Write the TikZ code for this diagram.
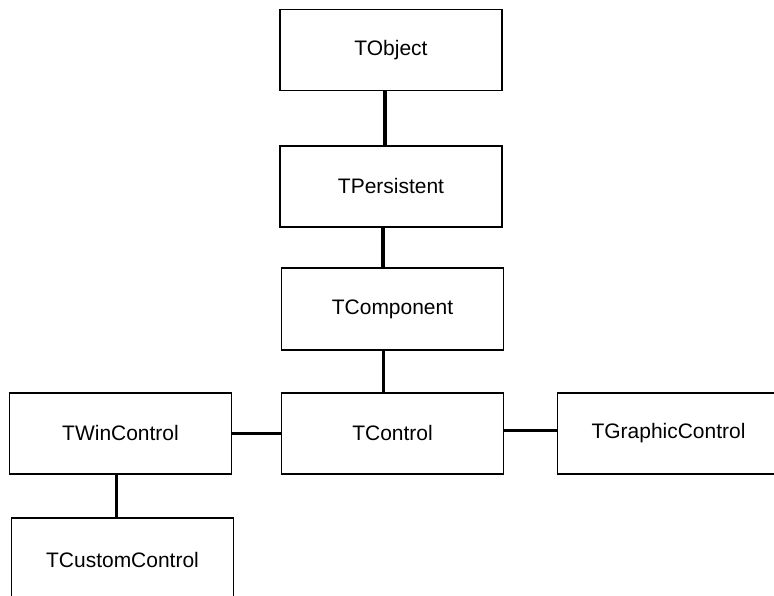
\documentclass[tikz,border=0pt]{standalone}
\usepackage{fontspec}
\setmainfont{Liberation Sans}

\tikzset{
  cls/.style={draw, line width=1.2pt, minimum width=6.66cm, minimum height=2.43cm,
              inner sep=0pt, font=\fontsize{17.9}{20}\selectfont},
  link/.style={line width=2.7pt},
}

\begin{document}
\begin{tikzpicture}[x=0.03cm, y=-0.03cm]
        \useasboundingbox (0,0) rectangle (774,596);
        \clip (0,0) rectangle (774,596);
        \fill [white] (0,0) rectangle (774,596);
        \node (tobject) at (391, 50) [cls] {TObject};
        \node (tpersistent) at (391, 186.5) [cls] {TPersistent};
        \node (tcomponent) at (392.5, 309) [cls, minimum height=2.46cm] {TComponent};
        \node (tcontrol) at (392.5, 433.5) [cls] {TControl};
        \node (twincontrol) at (120.5, 433.5) [cls] {TWinControl};
        \node (tgraphic) at (668.5, 433.5) [cls] {TGraphicControl};
        \node (tcustom) at (122.5, 560) [cls, minimum height=2.52cm] {TCustomControl};
        \draw [link] ([xshift=-0.18cm]tobject.south) -- ([xshift=-0.18cm]tobject.south |- tpersistent.north);
        \draw [link] ([xshift=-0.24cm]tpersistent.south) -- ([xshift=-0.24cm]tpersistent.south |- tcomponent.north);
        \draw [link] ([xshift=-0.28cm]tcomponent.south) -- ([xshift=-0.28cm]tcomponent.south |- tcontrol.north);
        \draw [link] (twincontrol.east) -- (tcontrol.west);
        \draw [link] ([yshift=0.1cm]tcontrol.east) -- ([yshift=0.1cm]tcontrol.east -| tgraphic.west);
        \draw [link] ([xshift=-0.13cm]twincontrol.south) -- ([xshift=-0.13cm]twincontrol.south |- tcustom.north);
      \end{tikzpicture}
\end{document}
